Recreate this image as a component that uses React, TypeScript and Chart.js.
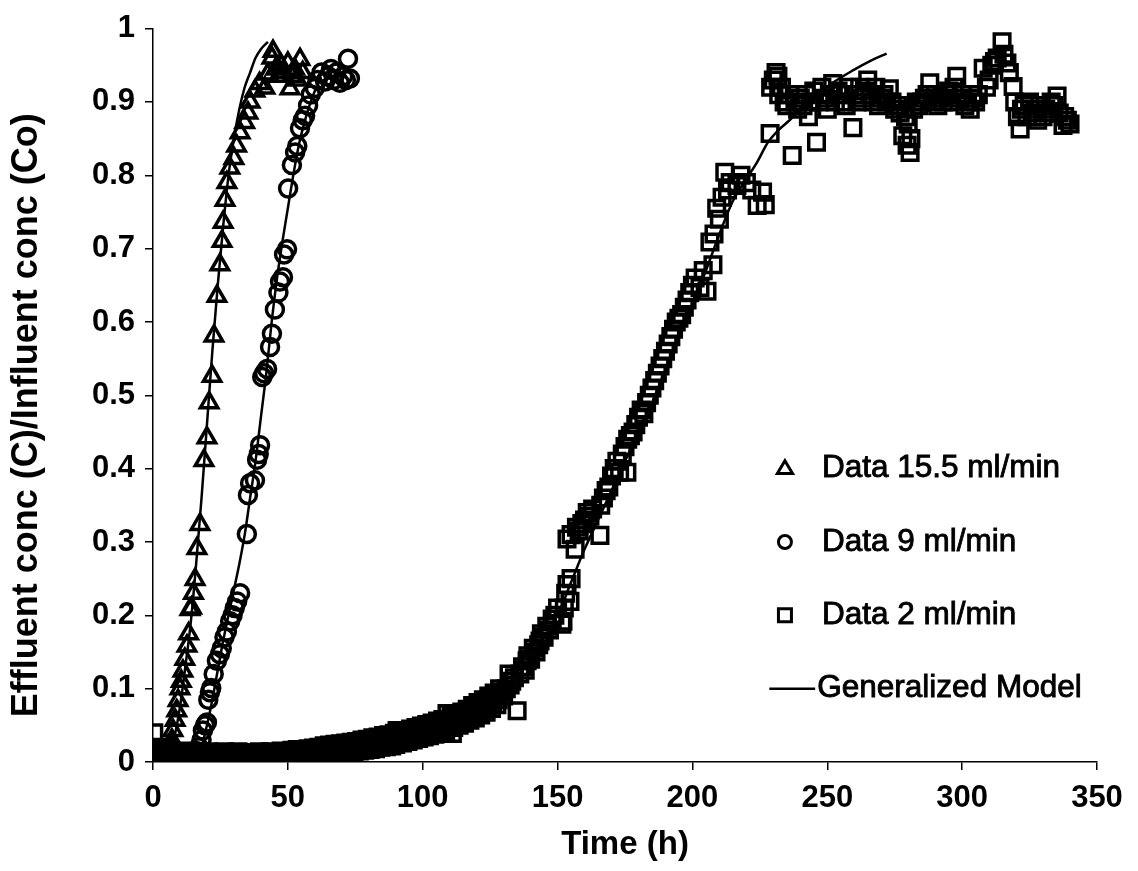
import React, { useEffect, useRef } from "react";
import { Chart, registerables } from "chart.js";
Chart.register(...registerables);

type P = [number, number];

const xTickValues = [0, 50, 100, 150, 200, 250, 300, 350];
const yTickValues = [0, 0.1, 0.2, 0.3, 0.4, 0.5, 0.6, 0.7, 0.8, 0.9, 1];
const xTitle = "Time (h)";
const yTitle = "Effluent conc (C)/Influent conc (Co)";
const legendLabels = ["Data 15.5 ml/min", "Data 9 ml/min", "Data 2 ml/min", "Generalized Model"];

const data155: P[] = [
  [0.5, 0.005], [1, 0.0], [1.5, 0.01], [2, 0.003], [2.5, 0.0], [3, 0.008], [3.5, 0.002], [4, 0.012],
  [4.5, 0.005], [5, 0.015], [5.5, 0.01], [6, 0.02], [6.5, 0.025], [7, 0.03], [7.4, 0.043], [8.2, 0.057],
  [8.8, 0.07], [9.3, 0.084], [10, 0.1], [10.5, 0.11], [11.1, 0.124], [11.8, 0.14], [12.6, 0.158],
  [13.2, 0.175], [13.7, 0.208], [14.3, 0.21], [15, 0.23], [15.6, 0.249], [16.3, 0.291], [17.4, 0.324],
  [18.9, 0.411], [20, 0.442], [20.8, 0.49], [21.9, 0.526], [22.6, 0.581], [23.7, 0.635], [24.8, 0.678],
  [25.6, 0.71], [26, 0.736], [26.7, 0.766], [27.4, 0.79], [28.5, 0.81], [30, 0.823], [31, 0.84],
  [32.3, 0.858], [34, 0.872], [35.2, 0.885], [36, 0.9], [37.8, 0.915], [39.5, 0.925], [41.5, 0.919],
  [42.6, 0.938], [44.1, 0.96], [44.5, 0.969], [45.5, 0.945], [46.5, 0.935], [47.5, 0.95], [48.5, 0.94],
  [50, 0.953], [50.8, 0.918], [51.5, 0.935], [52.5, 0.945], [53.5, 0.93], [54.5, 0.958], [55.5, 0.94],
];

const data9: P[] = [
  [0, 0.005], [1, 0.0], [2, 0.01], [3, 0.002], [4, 0.008], [5, 0.0], [6, 0.005], [7, 0.01], [8, 0.003],
  [9, 0.007], [10, 0.0], [11, 0.005], [12, 0.01], [13, 0.002], [14, 0.006], [15, 0.01], [16, 0.015],
  [17, 0.02], [18, 0.03], [18.5, 0.043], [19.3, 0.05], [20, 0.054], [20.5, 0.085], [21.1, 0.095],
  [21.6, 0.101], [22.5, 0.12], [23.7, 0.138], [24.8, 0.147], [25.5, 0.155], [26.5, 0.17], [27.4, 0.178],
  [28.6, 0.192], [29.5, 0.2], [30.3, 0.21], [31.2, 0.219], [32.3, 0.23], [34.8, 0.311], [35.2, 0.364],
  [36, 0.38], [37.8, 0.384], [38.6, 0.412], [39.2, 0.42], [39.7, 0.432], [40.5, 0.525], [41.2, 0.53],
  [42.3, 0.536], [43.4, 0.566], [44.1, 0.584], [45.2, 0.617], [46.5, 0.64], [47.1, 0.655], [48.2, 0.661],
  [48.6, 0.692], [49.7, 0.699], [50.1, 0.782], [51.5, 0.814], [52.7, 0.831], [53.5, 0.84], [54.5, 0.864],
  [55.5, 0.875], [56.4, 0.881], [57.5, 0.895], [58.5, 0.91], [60, 0.919], [61, 0.93], [62.5, 0.94],
  [63.8, 0.928], [65, 0.935], [66, 0.945], [67, 0.93], [68, 0.94], [69.3, 0.926], [70.5, 0.935],
  [71.5, 0.93], [72.3, 0.959], [73, 0.932],
];

const data2: P[] = [
  [0.3, 0.04], [0.8, 0.01], [1.3, 0.0], [1.8, 0.02], [2.5, 0.005], [3, 0.012], [3.6, 0.0], [4.2, 0.008],
  [5, 0.003], [5.8, 0.01], [6.5, 0.0], [7.3, 0.006], [8, 0.002], [9, 0.008], [10, 0.0], [11, 0.005],
  [12, 0.01], [13, 0.003], [14, 0.007], [15, 0.0], [16, 0.004], [17, 0.009], [18, 0.002], [19, 0.006],
  [20, 0.001], [21, 0.006], [22, 0.002], [23, 0.008], [24, 0.003], [25, 0.0], [26, 0.005], [27, 0.009],
  [28, 0.002], [29, 0.006], [30, 0.0], [31, 0.004], [32, 0.008], [33, 0.002], [34, 0.005], [35, 0.0],
  [36, 0.006], [37, 0.003], [38, 0.008], [39, 0.001], [40, 0.005], [41, 0.009], [42, 0.003], [43, 0.006],
  [44, 0.001], [45, 0.007], [46, 0.004], [47, 0.009], [48, 0.003], [49, 0.007], [50, 0.004], [51, 0.01],
  [52, 0.006], [53, 0.011], [54, 0.005], [55, 0.009], [56, 0.013], [57, 0.007], [58, 0.012], [59, 0.008],
  [60, 0.014], [61, 0.01], [62, 0.015], [63, 0.011], [64, 0.017], [65, 0.012], [66, 0.018], [67, 0.013],
  [68, 0.02], [69, 0.015], [70, 0.019], [71, 0.014], [72, 0.021], [73, 0.016], [74, 0.022], [75, 0.018],
  [76, 0.024], [77, 0.019], [78, 0.025], [79, 0.02], [80, 0.027], [81, 0.022], [82, 0.028], [83, 0.023],
  [84, 0.029], [85, 0.025], [86, 0.031], [87, 0.026], [88, 0.033], [89, 0.028], [90.5, 0.043], [91, 0.03],
  [92, 0.036], [93, 0.031], [94, 0.038], [95, 0.033], [96, 0.04], [97, 0.035], [98, 0.042], [99, 0.037],
  [100, 0.044], [101, 0.039], [102, 0.046], [103, 0.041], [104, 0.05], [105, 0.044], [106, 0.052],
  [107, 0.047], [108, 0.055], [109, 0.066], [110, 0.05], [111, 0.039], [112, 0.058], [113, 0.062],
  [114, 0.056], [115, 0.065], [116, 0.06], [117, 0.07], [118, 0.064], [119, 0.074], [120, 0.068],
  [121, 0.078], [122, 0.072], [123, 0.082], [124, 0.076], [125, 0.086], [126, 0.08], [127, 0.09],
  [128, 0.085], [129, 0.095], [130, 0.09], [131, 0.1], [132, 0.12], [132.4, 0.105], [133, 0.11],
  [134, 0.115], [135, 0.07], [136, 0.12], [137, 0.13], [138, 0.125], [138.7, 0.138], [139, 0.145],
  [140, 0.14], [141, 0.155], [142, 0.15], [143, 0.16], [143.5, 0.165], [144, 0.175], [145, 0.17],
  [146, 0.185], [147, 0.18], [148, 0.195], [149, 0.2], [150, 0.21], [151.6, 0.188], [152, 0.192],
  [152.5, 0.21], [153, 0.23], [153.5, 0.242], [154.6, 0.219], [155, 0.25], [153.5, 0.304], [155, 0.31],
  [156.5, 0.29], [157, 0.32], [158, 0.315], [159, 0.325], [160, 0.33], [161, 0.34], [162, 0.335],
  [163, 0.345], [165.7, 0.309], [166, 0.35], [167, 0.36], [168, 0.37], [169, 0.375], [170, 0.39],
  [171, 0.4], [172, 0.41], [173, 0.395], [174, 0.42], [175, 0.43], [175.7, 0.395], [176, 0.44],
  [177, 0.445], [178, 0.45], [179, 0.46], [180, 0.47], [181, 0.48], [182, 0.475], [183, 0.49], [184, 0.5],
  [185, 0.51], [186, 0.52], [187, 0.53], [188, 0.54], [189, 0.55], [190, 0.56], [191, 0.57], [192, 0.58],
  [193, 0.59], [194, 0.6], [195, 0.605], [196, 0.61], [197, 0.62], [198, 0.63], [199, 0.64], [200, 0.65],
  [201, 0.66], [202.8, 0.647], [204, 0.67], [205.4, 0.642], [206.5, 0.709], [207.6, 0.678], [208, 0.72],
  [209, 0.755], [210, 0.74], [211, 0.77], [212, 0.804], [213, 0.78], [214, 0.79], [216.5, 0.786],
  [218, 0.8], [220, 0.79], [222, 0.78], [224, 0.759], [226, 0.777], [227, 0.76], [228.8, 0.857],
  [229, 0.92], [230, 0.93], [231, 0.94], [231.7, 0.935], [232, 0.91], [233, 0.92], [234, 0.9],
  [235, 0.895], [236, 0.91], [237, 0.827], [238, 0.9], [239, 0.89], [240, 0.905], [241, 0.895],
  [242, 0.91], [243, 0.88], [244, 0.9], [245, 0.915], [246, 0.845], [247, 0.9], [248, 0.92], [249, 0.905],
  [250, 0.89], [251, 0.91], [252, 0.925], [253, 0.9], [254, 0.915], [255, 0.91], [256, 0.9], [257, 0.895],
  [258, 0.92], [259.5, 0.865], [260, 0.91], [261, 0.9], [262, 0.92], [263, 0.905], [264, 0.915],
  [265, 0.93], [266, 0.91], [267, 0.9], [268, 0.92], [269, 0.895], [270, 0.905], [271, 0.91], [272, 0.9],
  [273, 0.918], [274, 0.9], [275, 0.89], [276, 0.895], [277, 0.885], [278, 0.854], [279, 0.88],
  [279.6, 0.841], [280, 0.87], [280.7, 0.831], [281, 0.85], [282, 0.89], [283, 0.9], [284, 0.895],
  [285, 0.9], [286, 0.905], [287, 0.91], [288, 0.926], [289, 0.9], [290, 0.91], [291, 0.895], [292, 0.905],
  [293, 0.9], [294, 0.91], [295, 0.915], [296, 0.9], [297, 0.92], [298, 0.935], [299, 0.905], [300, 0.91],
  [301, 0.895], [302, 0.9], [303, 0.89], [304, 0.905], [305, 0.9], [306, 0.91], [307.8, 0.946], [309, 0.92],
  [310, 0.93], [311, 0.95], [312, 0.955], [313, 0.96], [314.8, 0.982], [315.5, 0.965], [316.6, 0.953],
  [317.5, 0.94], [318.9, 0.921], [319.5, 0.9], [320.5, 0.88], [321.5, 0.863], [322, 0.89], [323, 0.895],
  [324, 0.88], [325, 0.9], [326, 0.885], [327, 0.89], [328, 0.875], [329, 0.895], [330, 0.88], [331, 0.89],
  [332, 0.885], [333, 0.9], [334, 0.895], [335.2, 0.908], [336, 0.885], [337.4, 0.868], [338, 0.88],
  [339, 0.875], [340, 0.87],
  // second sweep through the dense early band
  [0.6, 0.016], [1.6, 0.006], [2.2, 0.0], [3.3, 0.017], [4.6, 0.002], [5.4, 0.014], [6.2, 0.004],
  [7, 0.013], [8.5, 0.0], [9.5, 0.013], [10.5, 0.004], [11.5, 0.0], [12.5, 0.015], [13.5, 0.012],
  [14.5, 0.003], [15.5, 0.014], [16.5, 0.0], [17.5, 0.013], [18.5, 0.005], [19.5, 0.0], [20.5, 0.014],
  [21.5, 0.0], [22.5, 0.012], [23.5, 0.005], [24.5, 0.013], [25.5, 0.002], [26.5, 0.014], [27.5, 0.004],
  [28.5, 0.0], [29.5, 0.012], [30.5, 0.003], [31.5, 0.014], [32.5, 0.0], [33.5, 0.011], [34.5, 0.004],
  [35.5, 0.013], [36.5, 0.0], [37.5, 0.012], [38.5, 0.005], [39.5, 0.014], [40.5, 0.001], [41.5, 0.012],
  [42.5, 0.004], [43.5, 0.014], [44.5, 0.002], [45.5, 0.013], [46.5, 0.005], [47.5, 0.015], [48.5, 0.003],
  [49.5, 0.014], [50.5, 0.006], [51.5, 0.016], [52.5, 0.004], [53.5, 0.017], [54.5, 0.007], [55.5, 0.017],
  [56.5, 0.006], [57.5, 0.018], [58.5, 0.007], [59.5, 0.019], [60.5, 0.008], [61.5, 0.02], [62.5, 0.009],
  [63.5, 0.022], [64.5, 0.01], [65.5, 0.023], [66.5, 0.011], [67.5, 0.024], [68.5, 0.012], [69.5, 0.025],
  [70.5, 0.012], [71.5, 0.026], [72.5, 0.013], [73.5, 0.027], [74.5, 0.014], [75.5, 0.028], [76.5, 0.015],
  [77.5, 0.03], [78.5, 0.016], [79.5, 0.031], [80.5, 0.017], [81.5, 0.033], [82.5, 0.018], [83.5, 0.034],
  [84.5, 0.02], [85.5, 0.036], [86.5, 0.021], [87.5, 0.037], [88.5, 0.022], [89.5, 0.039], [90, 0.024],
  [91.5, 0.041], [92.5, 0.026], [93.5, 0.043], [94.5, 0.028], [95.5, 0.045], [96.5, 0.03], [97.5, 0.047],
  [98.5, 0.032], [99.5, 0.049], [100.5, 0.034], [101.5, 0.051], [102.5, 0.036], [103.5, 0.053],
  [104.5, 0.038], [105.5, 0.056], [106.5, 0.04], [107.5, 0.058], [108.5, 0.043], [110.5, 0.062],
  [111.5, 0.047], [112.5, 0.066], [113.5, 0.05], [114.5, 0.068], [115.5, 0.053], [116.5, 0.072],
  [117.5, 0.057], [118.5, 0.077], [119.5, 0.06], [120.5, 0.081], [121.5, 0.064], [122.5, 0.085],
  [123.5, 0.068], [124.5, 0.09], [125.5, 0.073], [126.5, 0.094], [127.5, 0.078], [128.5, 0.1],
];

const model155: P[] = [
  [4, 0.0], [6, 0.01], [8, 0.035], [10, 0.075], [12, 0.13], [14, 0.19], [16, 0.27], [18, 0.36], [20, 0.46],
  [22, 0.56], [24, 0.65], [26, 0.73], [28, 0.8], [30, 0.85], [32, 0.89], [34, 0.92], [36, 0.94],
  [38, 0.96], [40, 0.972], [42.6, 0.982],
];

const model9: P[] = [
  [16, 0.0], [18, 0.02], [20, 0.05], [22, 0.085], [24, 0.125], [26, 0.165], [28, 0.2], [30, 0.235],
  [32, 0.27], [34, 0.31], [36, 0.36], [38, 0.41], [40, 0.47], [42, 0.53], [44, 0.6], [46, 0.66],
  [48, 0.71], [50, 0.755], [52, 0.8], [54, 0.84], [56, 0.87], [58, 0.895], [60, 0.915], [62, 0.93],
];

const model2: P[] = [
  [0, 0.0], [20, 0.002], [40, 0.006], [60, 0.012], [80, 0.022], [100, 0.036], [110, 0.05], [120, 0.067],
  [130, 0.095], [135, 0.115], [140, 0.14], [145, 0.17], [150, 0.2], [155, 0.245], [160, 0.29],
  [165, 0.33], [170, 0.37], [175, 0.41], [180, 0.45], [185, 0.49], [190, 0.535], [195, 0.58],
  [200, 0.625], [205, 0.67], [210, 0.72], [215, 0.765], [220, 0.795], [224, 0.818], [228, 0.845],
  [232, 0.862], [236, 0.875], [240, 0.89], [245, 0.905], [252, 0.926], [260, 0.944], [266, 0.956],
  [272, 0.966],
];

const toXY = (arr: P[]) => arr.map(([x, y]) => ({ x, y }));

const FONT = "'Liberation Sans', Arial, Helvetica, sans-serif";

const titlePlugin = {
  id: "yTitle",
  afterDraw(chart: any) {
    const { ctx, scales } = chart;
    const ys = scales.y;
    const cy = (ys.top + ys.bottom) / 2 + 20;
    ctx.save();
    ctx.translate(27, cy);
    ctx.rotate(-Math.PI / 2);
    ctx.font = `bold 36px ${FONT}`;
    ctx.fillStyle = "#000";
    ctx.textAlign = "center";
    ctx.textBaseline = "middle";
    ctx.fillText(yTitle, 0, 0);
    ctx.restore();
  },
};

const legendPlugin = {
  id: "insideLegend",
  afterDraw(chart: any) {
    const { ctx, scales } = chart;
    const xs = scales.x;
    const ys = scales.y;
    const mx = xs.getPixelForValue(234.3);
    const tx = xs.getPixelForValue(248);
    const rowsY = [0.4, 0.3, 0.2, 0.1].map((v) => ys.getPixelForValue(v));
    ctx.save();
    ctx.strokeStyle = "#000";
    ctx.fillStyle = "#000";
    ctx.lineWidth = 3;
    const r = 8;
    let cy = rowsY[0];
    ctx.beginPath();
    ctx.moveTo(mx, cy - r);
    ctx.lineTo(mx + r * 0.95, cy + r * 0.62);
    ctx.lineTo(mx - r * 0.95, cy + r * 0.62);
    ctx.closePath();
    ctx.stroke();
    cy = rowsY[1];
    ctx.beginPath();
    ctx.arc(mx, cy, 6.5, 0, Math.PI * 2);
    ctx.stroke();
    cy = rowsY[2];
    ctx.beginPath();
    ctx.rect(mx - 6.5, cy - 6.5, 13, 13);
    ctx.stroke();
    cy = rowsY[3];
    ctx.lineWidth = 2.5;
    ctx.beginPath();
    ctx.moveTo(xs.getPixelForValue(228.5), cy);
    ctx.lineTo(xs.getPixelForValue(245.5), cy);
    ctx.stroke();

    ctx.font = `31.5px ${FONT}`;
    ctx.textBaseline = "middle";
    ctx.textAlign = "left";
    ctx.lineWidth = 0.9;
    const draw = (t: string, x: number, y: number) => {
      ctx.fillText(t, x, y);
      ctx.strokeText(t, x, y);
    };
    draw(legendLabels[0], tx, rowsY[0]);
    draw(legendLabels[1], tx, rowsY[1]);
    draw(legendLabels[2], tx, rowsY[2]);
    draw(legendLabels[3], xs.getPixelForValue(246.3), rowsY[3]);
    ctx.restore();
  },
};

export default function App() {
  const ref = useRef<HTMLCanvasElement | null>(null);
  useEffect(() => {
    if (!ref.current) return;
    const markerCommon = {
      showLine: false,
      borderColor: "#000",
      backgroundColor: "rgba(0,0,0,0)",
      pointBorderColor: "#000",
      pointBackgroundColor: "rgba(0,0,0,0)",
      pointBorderWidth: 3.5,
      order: 1,
    };
    const lineCommon = {
      showLine: true,
      borderColor: "#000",
      borderWidth: 2.5,
      pointRadius: 0,
      cubicInterpolationMode: "monotone" as const,
      fill: false,
      order: 0,
      label: legendLabels[3],
    };
    const chart = new Chart(ref.current, {
      type: "scatter",
      data: {
        datasets: [
          { ...markerCommon, label: legendLabels[0], data: toXY(data155), pointStyle: "triangle", pointRadius: 10 },
          { ...markerCommon, label: legendLabels[1], data: toXY(data9), pointStyle: "circle", pointRadius: 8.5 },
          { ...markerCommon, label: legendLabels[2], data: toXY(data2), pointStyle: "rect", pointRadius: 11 },
          { ...lineCommon, data: toXY(model155) },
          { ...lineCommon, data: toXY(model9) },
          { ...lineCommon, data: toXY(model2) },
        ] as any,
      },
      plugins: [legendPlugin, titlePlugin],
      options: {
        animation: false,
        responsive: true,
        maintainAspectRatio: false,
        layout: { padding: { top: 22, right: 41, left: 0, bottom: 0 } },
        plugins: { legend: { display: false }, tooltip: { enabled: false } },
        scales: {
          x: {
            type: "linear",
            min: 0,
            max: 350,
            afterBuildTicks: (s: any) => {
              s.ticks = xTickValues.map((v) => ({ value: v }));
            },
            afterFit: (s: any) => {
              s.height = 109;
            },
            ticks: {
              color: "#000",
              font: { family: FONT, size: 31, weight: "bold" },
              padding: 10,
              maxRotation: 0,
              autoSkip: false,
            },
            grid: { display: true, drawOnChartArea: false, drawTicks: true, tickLength: 8, color: "#000", lineWidth: 1.5 },
            border: { display: true, color: "#000", width: 1.5 },
            title: {
              display: true,
              text: xTitle,
              color: "#000",
              font: { family: FONT, size: 33, weight: "bold" },
              padding: { top: 0, bottom: 6 },
            },
          },
          y: {
            type: "linear",
            min: 0,
            max: 1,
            afterBuildTicks: (s: any) => {
              s.ticks = yTickValues.map((v) => ({ value: v }));
            },
            afterFit: (s: any) => {
              s.width = 153;
            },
            ticks: {
              color: "#000",
              font: { family: FONT, size: 31, weight: "bold" },
              padding: 10,
              autoSkip: false,
              callback: (v: any) => String(Number(Number(v).toFixed(1))),
            },
            grid: { display: true, drawOnChartArea: false, drawTicks: true, tickLength: 8, color: "#000", lineWidth: 1.5 },
            border: { display: true, color: "#000", width: 1.5 },
            title: { display: false },
          },
        },
      } as any,
    });
    return () => chart.destroy();
  }, []);
  return (
    <div style={{ position: "absolute", left: 0, top: 0, width: 1138, height: 871, background: "#fff" }}>
      <canvas ref={ref} />
    </div>
  );
}
